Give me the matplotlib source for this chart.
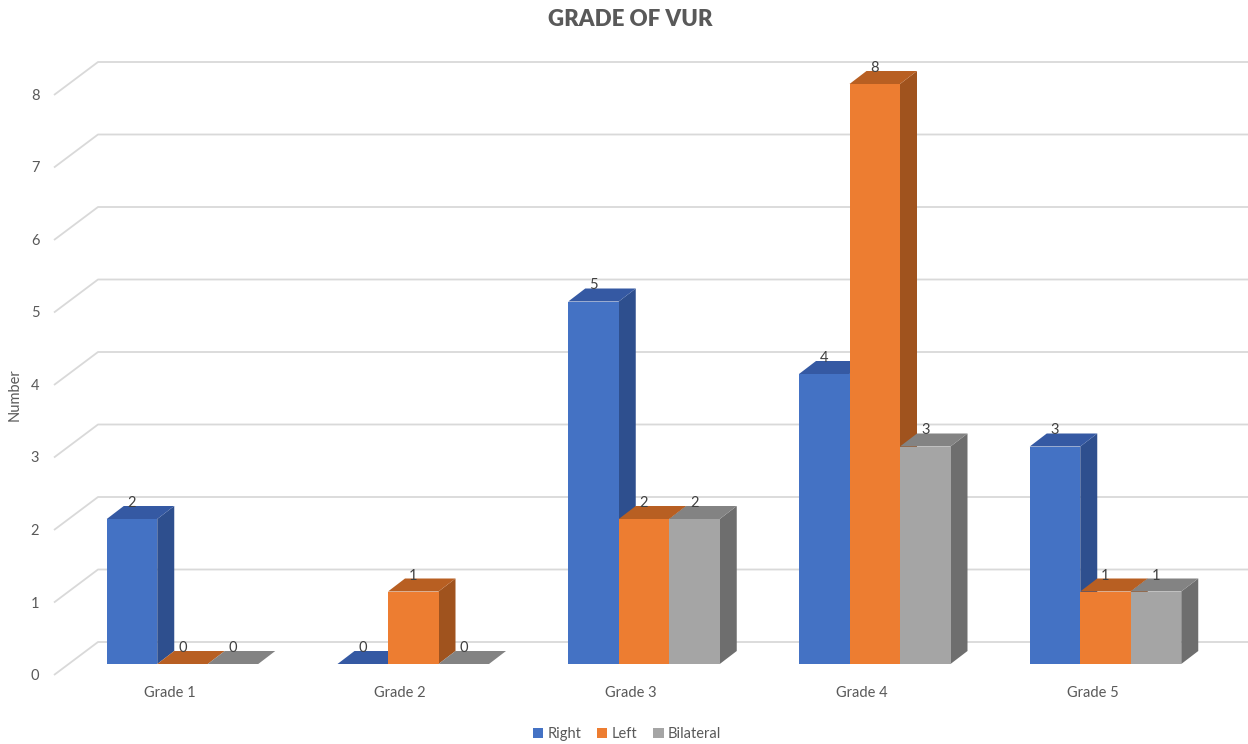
import matplotlib
matplotlib.use("Agg")
import matplotlib.pyplot as plt
from matplotlib.patches import Polygon, Patch

# ---- data ----
categories = ["Grade 1", "Grade 2", "Grade 3", "Grade 4", "Grade 5"]
series_names = ["Right", "Left", "Bilateral"]
right = [2, 0, 5, 4, 3]
left = [0, 1, 2, 8, 1]
bilateral = [0, 0, 2, 3, 1]
y_ticks = [0, 1, 2, 3, 4, 5, 6, 7, 8]

# ---- styling ----
face_colors = ["#4472C4", "#ED7D31", "#A5A5A5"]
side_colors = ["#2E4F8E", "#A0531E", "#6E6E6E"]
top_colors = ["#3559A3", "#B85F22", "#838383"]
text_color = "#595959"
grid_color = "#D9D9D9"
font = ["Lato", "DejaVu Sans"]
plt.rcParams["font.family"] = font

W, H = 1248, 744
fig = plt.figure(figsize=(W / 100, H / 100), dpi=100)
ax = fig.add_axes([0, 0, 1, 1])

# pixel layout -> data coordinates (category units horizontally, values vertically)
X0, XSTEP = 182.5, 230.75
Y0, YSTEP = 664.0, 72.5


def px_x(p):
    return (p - X0) / XSTEP


def px_y(p):
    return (Y0 - p) / YSTEP


ax.set_xlim(px_x(0), px_x(W))
ax.set_ylim(px_y(H), px_y(0))
ax.axis("off")

bar_w = 50.5 / XSTEP
dep_x = 17 / XSTEP
dep_y = 13 / YSTEP

# walls: gridlines on back wall with slanted side-wall segments
back_off = (Y0 - 642) / YSTEP
front_off = (Y0 - 675) / YSTEP
for t in y_ticks:
    ax.plot([px_x(54), px_x(98), px_x(W)],
            [t + front_off, t + back_off, t + back_off],
            color=grid_color, lw=1.3, zorder=1, solid_capstyle="butt")
    ax.text(px_x(35), t + front_off - 1 / YSTEP, str(t), ha="center", va="center",
            fontsize=10.5, color=text_color)

all_series = [right, left, bilateral]


def draw_bar(x_left, h, k, z):
    x_right = x_left + bar_w
    front = Polygon([(x_left, 0), (x_right, 0), (x_right, h), (x_left, h)],
                    closed=True, facecolor=face_colors[k], edgecolor="none", zorder=z)
    side = Polygon([(x_right, 0), (x_right + dep_x, dep_y), (x_right + dep_x, h + dep_y),
                    (x_right, h)], closed=True, facecolor=side_colors[k],
                   edgecolor="none", zorder=z)
    top = Polygon([(x_left, h), (x_right, h), (x_right + dep_x, h + dep_y),
                   (x_left + dep_x, h + dep_y)], closed=True, facecolor=top_colors[k],
                  edgecolor="none", zorder=z)
    if h > 0:
        ax.add_patch(side)
        ax.add_patch(front)
    ax.add_patch(top)


z = 3
for i, cat in enumerate(categories):
    for k, series in enumerate(all_series):
        h = series[i]
        x_left = i + (k - 1.5) * bar_w
        draw_bar(x_left, h, k, z)
        z += 1
        ax.text(x_left + bar_w / 2, h + 16 / YSTEP, str(h), ha="center", va="center",
                fontsize=10.5, color="#404040", zorder=100)
    ax.text(i - 13 / XSTEP, px_y(693), cat, ha="center", va="center",
            fontsize=10.5, color=text_color)

# title and axis label
ax.text(px_x(630), px_y(20), "GRADE OF VUR", ha="center", va="center",
        fontsize=16, fontweight="heavy", color=text_color)
ax.text(px_x(15), px_y(395), "Number", ha="center", va="center", rotation=90,
        fontsize=10.5, color=text_color)

handles = [Patch(facecolor=c, edgecolor="none") for c in face_colors]
fig.legend(handles, series_names, loc="center", bbox_to_anchor=(627 / W, 1 - 734 / H),
           ncol=3, frameon=False, handlelength=0.7, handleheight=0.7,
           handletextpad=0.3, columnspacing=1.1, fontsize=10.5, labelcolor=text_color)

fig.savefig("out.png", dpi=100)
